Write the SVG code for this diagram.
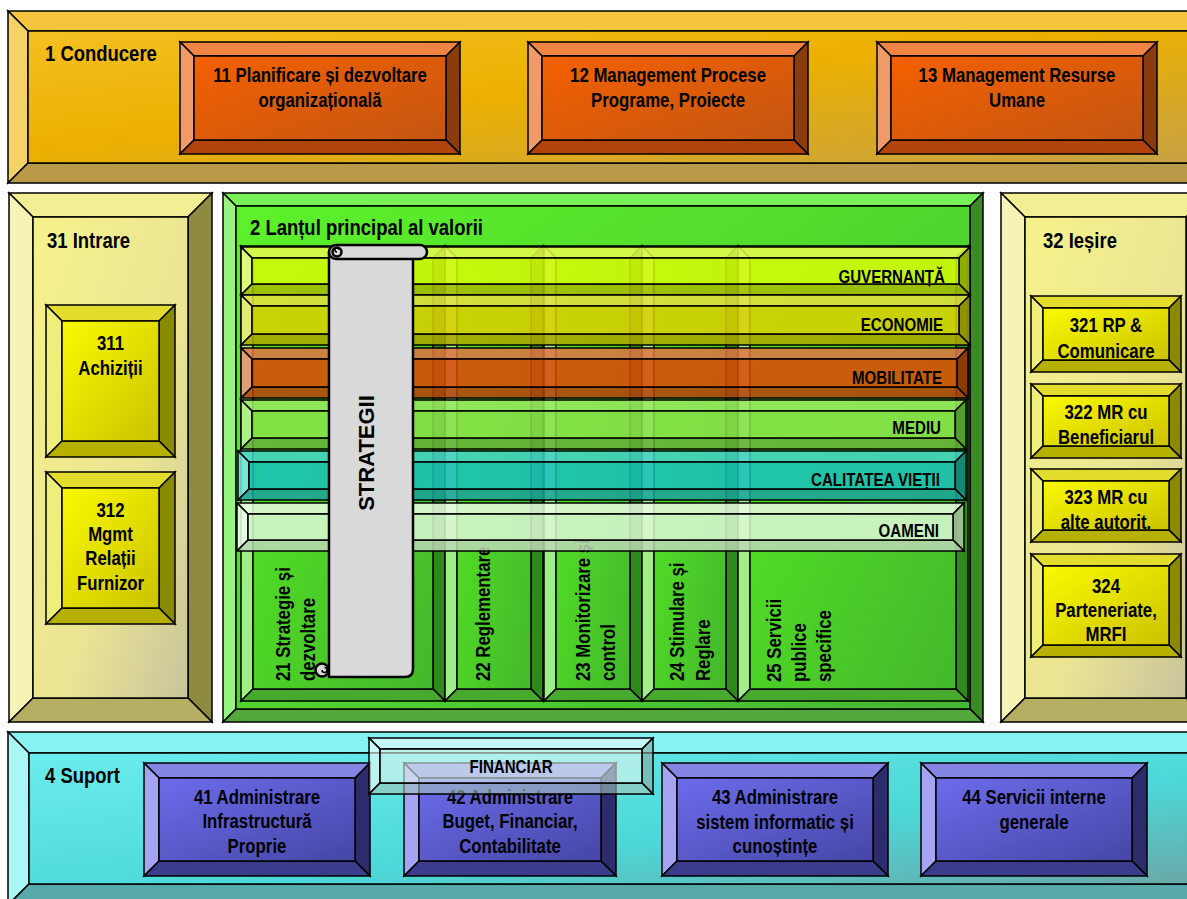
<svg xmlns="http://www.w3.org/2000/svg" width="1187" height="899" viewBox="0 0 1187 899">
<defs>
<linearGradient id="gGold" x1="0" y1="0" x2="1" y2="1"><stop offset="0" stop-color="#f4c022"/><stop offset=".45" stop-color="#ebb000"/><stop offset="1" stop-color="#c8a244"/></linearGradient>
<linearGradient id="gOr" x1="0" y1="0" x2="1" y2="1"><stop offset="0" stop-color="#f46000"/><stop offset="1" stop-color="#c45612"/></linearGradient>
<linearGradient id="gPale" x1="0" y1="0" x2="1" y2="1"><stop offset="0" stop-color="#f6f28a"/><stop offset=".6" stop-color="#eae494"/><stop offset="1" stop-color="#c8c49c"/></linearGradient>
<linearGradient id="gYel" x1="0" y1="0" x2="1" y2="1"><stop offset="0" stop-color="#fafa00"/><stop offset="1" stop-color="#ccc200"/></linearGradient>
<linearGradient id="gGrn" x1="0" y1="0" x2="1" y2="1"><stop offset="0" stop-color="#5cf22a"/><stop offset="1" stop-color="#44b832"/></linearGradient>
<linearGradient id="gCol" x1="0" y1="0" x2="1" y2="1"><stop offset="0" stop-color="#56ec22"/><stop offset="1" stop-color="#44b82c"/></linearGradient>
<linearGradient id="gCyan" x1="0" y1="0" x2="1" y2="1"><stop offset="0" stop-color="#6cecec"/><stop offset=".6" stop-color="#4cd8d8"/><stop offset="1" stop-color="#6aa8a8"/></linearGradient>
<linearGradient id="gBlue" x1="0" y1="0" x2="1" y2="1"><stop offset="0" stop-color="#6c6cec"/><stop offset="1" stop-color="#4646a6"/></linearGradient>
<style>
polygon,.in{stroke:#000;stroke-width:1.5;stroke-linejoin:miter}
.t{font-family:"Liberation Sans",Arial,sans-serif;font-weight:700;fill:#000}
.l{font-size:20px}.h{font-size:22px}.b{font-size:18px}
.gold .tp{fill:#f3c43c}.gold .lf{fill:#f5d265}.gold .rt{fill:#c09a3a}.gold .bt{fill:#b89a48}.gold .in{fill:url(#gGold)}
.or .tp{fill:#ef8444}.or .lf{fill:#f09a68}.or .rt{fill:#8a3c0c}.or .bt{fill:#b0440a}.or .in{fill:url(#gOr)}
.pale .tp{fill:#f2ee94}.pale .lf{fill:#f6f3b4}.pale .rt{fill:#8e8a40}.pale .bt{fill:#b6ae62}.pale .in{fill:url(#gPale)}
.yel .tp{fill:#e2dc2c}.yel .lf{fill:#eeee7a}.yel .rt{fill:#8a8a00}.yel .bt{fill:#b6b000}.yel .in{fill:url(#gYel)}
.grn .tp{fill:#78f058}.grn .lf{fill:#98f480}.grn .rt{fill:#3c8a24}.grn .bt{fill:#52a83a}.grn .in{fill:url(#gGrn)}
.col .tp{fill:#6ee04a}.col .lf{fill:#9ef086}.col .rt{fill:#2e8a1a}.col .bt{fill:#46aa2c}.col .in{fill:url(#gCol)}
.cyan .tp{fill:#86f2f2}.cyan .lf{fill:#a8f6f6}.cyan .rt{fill:#4aa8a8}.cyan .bt{fill:#58aaaa}.cyan .in{fill:url(#gCyan)}
.blue .tp{fill:#8484e4}.blue .lf{fill:#a4a4f2}.blue .rt{fill:#2c2c6c}.blue .bt{fill:#3c3c8c}.blue .in{fill:url(#gBlue)}
.band polygon,.band .in{fill-opacity:.86}
.guv .tp{fill:#e2fc4a}.guv .lf{fill:#e6fc74}.guv .rt{fill:#9cb400}.guv .bt{fill:#a6bc00}.guv .in{fill:#d6fa08}
.eco .tp{fill:#e6e040}.eco .lf{fill:#ecea70}.eco .rt{fill:#9c9600}.eco .bt{fill:#aca600}.eco .in{fill:#dcd000}
.mob .tp{fill:#e07444}.mob .lf{fill:#ea9070}.mob .rt{fill:#9c3000}.mob .bt{fill:#b4400c}.mob .in{fill:#dc4808}
.med .tp{fill:#9ae862}.med .lf{fill:#b2f084}.med .rt{fill:#5aa032}.med .bt{fill:#68b03a}.med .in{fill:#8ae24a}
.cal .tp{fill:#44d2ca}.cal .lf{fill:#74e2da}.cal .rt{fill:#108a84}.cal .bt{fill:#1aa29a}.cal .in{fill:#18c0bc}
.oam .tp{fill:#eafce2}.oam .lf{fill:#f2fff0}.oam .rt{fill:#aac8a2}.oam .bt{fill:#bcd8b4}.oam .in{fill:#dcf8d4}
.fin polygon,.fin .in{fill-opacity:.6}
.fin .tp{fill:#eefcf8}.fin .lf{fill:#f4fffc}.fin .rt{fill:#8aa8a0}.fin .bt{fill:#a4c4bc}.fin .in{fill:#e2f6f0}
.scroll{fill:#d9d9d9;stroke:#000;stroke-width:2.5;stroke-linejoin:round}
</style>
</defs>
<rect width="1187" height="899" fill="#fff"/>

<g id="n1" class="gold">
<polygon class="tp" points="8,11 1210,11 1190,31 28,31"/>
<polygon class="lf" points="8,11 28,31 28,163 8,183"/>
<polygon class="rt" points="1210,11 1210,183 1190,163 1190,31"/>
<polygon class="bt" points="8,183 28,163 1190,163 1210,183"/>
<rect class="in" x="28" y="31" width="1162" height="132"/>
<text class="t h" transform="translate(45 0) scale(.84 1)" x="0" y="61">1 Conducere</text>
</g>

<g id="n11" class="or">
<polygon class="tp" points="180,42 460,42 446,56 194,56"/>
<polygon class="lf" points="180,42 194,56 194,140 180,154"/>
<polygon class="rt" points="460,42 460,154 446,140 446,56"/>
<polygon class="bt" points="180,154 194,140 446,140 460,154"/>
<rect class="in" x="194" y="56" width="252" height="84"/>
<text class="t l" text-anchor="middle" transform="translate(320 0) scale(.84 1)"><tspan x="0" y="82">11 Planificare și dezvoltare</tspan><tspan x="0" y="107">organizațională</tspan></text>
</g>

<g id="n12" class="or">
<polygon class="tp" points="528,42 808,42 794,56 542,56"/>
<polygon class="lf" points="528,42 542,56 542,140 528,154"/>
<polygon class="rt" points="808,42 808,154 794,140 794,56"/>
<polygon class="bt" points="528,154 542,140 794,140 808,154"/>
<rect class="in" x="542" y="56" width="252" height="84"/>
<text class="t l" text-anchor="middle" transform="translate(668 0) scale(.84 1)"><tspan x="0" y="82">12 Management Procese</tspan><tspan x="0" y="107">Programe, Proiecte</tspan></text>
</g>

<g id="n13" class="or">
<polygon class="tp" points="877,42 1157,42 1143,56 891,56"/>
<polygon class="lf" points="877,42 891,56 891,140 877,154"/>
<polygon class="rt" points="1157,42 1157,154 1143,140 1143,56"/>
<polygon class="bt" points="877,154 891,140 1143,140 1157,154"/>
<rect class="in" x="891" y="56" width="252" height="84"/>
<text class="t l" text-anchor="middle" transform="translate(1017 0) scale(.84 1)"><tspan x="0" y="82">13 Management Resurse</tspan><tspan x="0" y="107">Umane</tspan></text>
</g>

<g id="n31" class="pale">
<polygon class="tp" points="9,193 212,193 188,217 33,217"/>
<polygon class="lf" points="9,193 33,217 33,698 9,722"/>
<polygon class="rt" points="212,193 212,722 188,698 188,217"/>
<polygon class="bt" points="9,722 33,698 188,698 212,722"/>
<rect class="in" x="33" y="217" width="155" height="481"/>
<text class="t h" transform="translate(47 0) scale(.84 1)" x="0" y="248">31 Intrare</text>
</g>

<g id="n311" class="yel">
<polygon class="tp" points="46,305 175,305 159,321 62,321"/>
<polygon class="lf" points="46,305 62,321 62,441 46,457"/>
<polygon class="rt" points="175,305 175,457 159,441 159,321"/>
<polygon class="bt" points="46,457 62,441 159,441 175,457"/>
<rect class="in" x="62" y="321" width="97" height="120"/>
<text class="t l" text-anchor="middle" transform="translate(110.5 0) scale(.84 1)"><tspan x="0" y="350">311</tspan><tspan x="0" y="375">Achiziții</tspan></text>
</g>

<g id="n312" class="yel">
<polygon class="tp" points="46,472 175,472 159,488 62,488"/>
<polygon class="lf" points="46,472 62,488 62,608 46,624"/>
<polygon class="rt" points="175,472 175,624 159,608 159,488"/>
<polygon class="bt" points="46,624 62,608 159,608 175,624"/>
<rect class="in" x="62" y="488" width="97" height="120"/>
<text class="t l" text-anchor="middle" transform="translate(110.5 0) scale(.84 1)"><tspan x="0" y="517">312</tspan><tspan x="0" y="541">Mgmt</tspan><tspan x="0" y="565">Relații</tspan><tspan x="0" y="590">Furnizor</tspan></text>
</g>

<g id="n32" class="pale">
<polygon class="tp" points="1001,193 1210,193 1186,217 1025,217"/>
<polygon class="lf" points="1001,193 1025,217 1025,698 1001,722"/>
<polygon class="rt" points="1210,193 1210,722 1186,698 1186,217"/>
<polygon class="bt" points="1001,722 1025,698 1186,698 1210,722"/>
<rect class="in" x="1025" y="217" width="161" height="481"/>
<text class="t h" transform="translate(1043 0) scale(.84 1)" x="0" y="248">32 Ieșire</text>
</g>

<g id="n321" class="yel">
<polygon class="tp" points="1031,296 1181,296 1169,308 1043,308"/>
<polygon class="lf" points="1031,296 1043,308 1043,360 1031,372"/>
<polygon class="rt" points="1181,296 1181,372 1169,360 1169,308"/>
<polygon class="bt" points="1031,372 1043,360 1169,360 1181,372"/>
<rect class="in" x="1043" y="308" width="126" height="52"/>
<text class="t l" text-anchor="middle" transform="translate(1106 0) scale(.84 1)"><tspan x="0" y="332">321 RP &amp;</tspan><tspan x="0" y="358">Comunicare</tspan></text>
</g>

<g id="n322" class="yel">
<polygon class="tp" points="1031,384 1181,384 1169,396 1043,396"/>
<polygon class="lf" points="1031,384 1043,396 1043,446 1031,458"/>
<polygon class="rt" points="1181,384 1181,458 1169,446 1169,396"/>
<polygon class="bt" points="1031,458 1043,446 1169,446 1181,458"/>
<rect class="in" x="1043" y="396" width="126" height="50"/>
<text class="t l" text-anchor="middle" transform="translate(1106 0) scale(.84 1)"><tspan x="0" y="419">322 MR cu</tspan><tspan x="0" y="444">Beneficiarul</tspan></text>
</g>

<g id="n323" class="yel">
<polygon class="tp" points="1031,469 1181,469 1169,481 1043,481"/>
<polygon class="lf" points="1031,469 1043,481 1043,530 1031,542"/>
<polygon class="rt" points="1181,469 1181,542 1169,530 1169,481"/>
<polygon class="bt" points="1031,542 1043,530 1169,530 1181,542"/>
<rect class="in" x="1043" y="481" width="126" height="49"/>
<text class="t l" text-anchor="middle" transform="translate(1106 0) scale(.84 1)"><tspan x="0" y="504">323 MR cu</tspan><tspan x="0" y="529">alte autorit.</tspan></text>
</g>

<g id="n324" class="yel">
<polygon class="tp" points="1031,554 1181,554 1169,566 1043,566"/>
<polygon class="lf" points="1031,554 1043,566 1043,645 1031,657"/>
<polygon class="rt" points="1181,554 1181,657 1169,645 1169,566"/>
<polygon class="bt" points="1031,657 1043,645 1169,645 1181,657"/>
<rect class="in" x="1043" y="566" width="126" height="79"/>
<text class="t l" text-anchor="middle" transform="translate(1106 0) scale(.84 1)"><tspan x="0" y="593">324</tspan><tspan x="0" y="617">Parteneriate,</tspan><tspan x="0" y="641">MRFI</tspan></text>
</g>

<g id="n2" class="grn">
<polygon class="tp" points="223,193 983,193 970,206 236,206"/>
<polygon class="lf" points="223,193 236,206 236,709 223,722"/>
<polygon class="rt" points="983,193 983,722 970,709 970,206"/>
<polygon class="bt" points="223,722 236,709 970,709 983,722"/>
<rect class="in" x="236" y="206" width="734" height="503"/>
<text class="t h" transform="translate(250 0) scale(.84 1)" x="0" y="235">2 Lanțul principal al valorii</text>
</g>

<g id="n21" class="col">
<polygon class="tp" points="241,246 445,246 433,258 253,258"/>
<polygon class="lf" points="241,246 253,258 253,689 241,701"/>
<polygon class="rt" points="445,246 445,701 433,689 433,258"/>
<polygon class="bt" points="241,701 253,689 433,689 445,701"/>
<rect class="in" x="253" y="258" width="180" height="431"/>
<text class="t l" transform="translate(290 681) rotate(-90) scale(.84 1)"><tspan x="0" y="0">21 Strategie și</tspan><tspan x="0" y="25">dezvoltare</tspan></text>
</g>

<g id="n22" class="col">
<polygon class="tp" points="445,246 543,246 531,258 457,258"/>
<polygon class="lf" points="445,246 457,258 457,689 445,701"/>
<polygon class="rt" points="543,246 543,701 531,689 531,258"/>
<polygon class="bt" points="445,701 457,689 531,689 543,701"/>
<rect class="in" x="457" y="258" width="74" height="431"/>
<text class="t l" transform="translate(490 681) rotate(-90) scale(.84 1)" x="0" y="0">22 Reglementare</text>
</g>

<g id="n23" class="col">
<polygon class="tp" points="544,246 642,246 630,258 556,258"/>
<polygon class="lf" points="544,246 556,258 556,689 544,701"/>
<polygon class="rt" points="642,246 642,701 630,689 630,258"/>
<polygon class="bt" points="544,701 556,689 630,689 642,701"/>
<rect class="in" x="556" y="258" width="74" height="431"/>
<text class="t l" transform="translate(590 681) rotate(-90) scale(.84 1)"><tspan x="0" y="0">23 Monitorizare și</tspan><tspan x="0" y="25">control</tspan></text>
</g>

<g id="n24" class="col">
<polygon class="tp" points="642,246 738,246 726,258 654,258"/>
<polygon class="lf" points="642,246 654,258 654,689 642,701"/>
<polygon class="rt" points="738,246 738,701 726,689 726,258"/>
<polygon class="bt" points="642,701 654,689 726,689 738,701"/>
<rect class="in" x="654" y="258" width="72" height="431"/>
<text class="t l" transform="translate(684 681) rotate(-90) scale(.84 1)"><tspan x="0" y="0">24 Stimulare și</tspan><tspan x="0" y="26">Reglare</tspan></text>
</g>

<g id="n25" class="col">
<polygon class="tp" points="738,246 968,246 956,258 750,258"/>
<polygon class="lf" points="738,246 750,258 750,689 738,701"/>
<polygon class="rt" points="968,246 968,701 956,689 956,258"/>
<polygon class="bt" points="738,701 750,689 956,689 968,701"/>
<rect class="in" x="750" y="258" width="206" height="431"/>
<text class="t l" transform="translate(781 682) rotate(-90) scale(.84 1)"><tspan x="0" y="0">25 Servicii</tspan><tspan x="0" y="25">publice</tspan><tspan x="0" y="50">specifice</tspan></text>
</g>

<g id="b_guv" class="band guv">
<polygon class="tp" points="241,247 970,247 959,258 252,258"/>
<polygon class="lf" points="241,247 252,258 252,284 241,295"/>
<polygon class="rt" points="970,247 970,295 959,284 959,258"/>
<polygon class="bt" points="241,295 252,284 959,284 970,295"/>
<rect class="in" x="252" y="258" width="707" height="26"/>
<text class="t b" text-anchor="end" transform="translate(945 0) scale(.84 1)" x="0" y="283">GUVERNANȚĂ</text>
</g>

<g id="b_eco" class="band eco">
<polygon class="tp" points="241,295 970,295 959,306 252,306"/>
<polygon class="lf" points="241,295 252,306 252,334 241,345"/>
<polygon class="rt" points="970,295 970,345 959,334 959,306"/>
<polygon class="bt" points="241,345 252,334 959,334 970,345"/>
<rect class="in" x="252" y="306" width="707" height="28"/>
<text class="t b" text-anchor="end" transform="translate(943 0) scale(.84 1)" x="0" y="331">ECONOMIE</text>
</g>

<g id="b_mob" class="band mob">
<polygon class="tp" points="241,348 968,348 957,359 252,359"/>
<polygon class="lf" points="241,348 252,359 252,387 241,398"/>
<polygon class="rt" points="968,348 968,398 957,387 957,359"/>
<polygon class="bt" points="241,398 252,387 957,387 968,398"/>
<rect class="in" x="252" y="359" width="705" height="28"/>
<text class="t b" text-anchor="end" transform="translate(942 0) scale(.84 1)" x="0" y="384">MOBILITATE</text>
</g>

<g id="b_med" class="band med">
<polygon class="tp" points="241,400 966,400 955,411 252,411"/>
<polygon class="lf" points="241,400 252,411 252,438 241,449"/>
<polygon class="rt" points="966,400 966,449 955,438 955,411"/>
<polygon class="bt" points="241,449 252,438 955,438 966,449"/>
<rect class="in" x="252" y="411" width="703" height="27"/>
<text class="t b" text-anchor="end" transform="translate(941 0) scale(.84 1)" x="0" y="434">MEDIU</text>
</g>

<g id="b_cal" class="band cal">
<polygon class="tp" points="238,451 966,451 955,462 249,462"/>
<polygon class="lf" points="238,451 249,462 249,489 238,500"/>
<polygon class="rt" points="966,451 966,500 955,489 955,462"/>
<polygon class="bt" points="238,500 249,489 955,489 966,500"/>
<rect class="in" x="249" y="462" width="706" height="27"/>
<text class="t b" text-anchor="end" transform="translate(940 0) scale(.84 1)" x="0" y="486">CALITATEA VIEȚII</text>
</g>

<g id="b_oam" class="band oam">
<polygon class="tp" points="237,503 964,503 953,514 248,514"/>
<polygon class="lf" points="237,503 248,514 248,540 237,551"/>
<polygon class="rt" points="964,503 964,551 953,540 953,514"/>
<polygon class="bt" points="237,551 248,540 953,540 964,551"/>
<rect class="in" x="248" y="514" width="705" height="26"/>
<text class="t b" text-anchor="end" transform="translate(939 0) scale(.84 1)" x="0" y="537">OAMENI</text>
</g>

<g id="strategii">
<path class="scroll" d="M329,252 V677 H405 Q413,677 413,669 V252 Z"/>
<rect class="scroll" x="329" y="245" width="98" height="14" rx="7"/>
<circle class="scroll" cx="337" cy="252" r="4.5"/>
<path d="M337,252 a2,2 0 1 1 2,-2" fill="none" stroke="#000" stroke-width="1.5"/>
<circle class="scroll" cx="322" cy="670" r="6.5"/>
<path d="M322,670 a2.5,2.5 0 1 0 2.5,-2.5" fill="none" stroke="#000" stroke-width="1.5"/>
<text class="t" font-size="22" text-anchor="middle" transform="translate(374 453) rotate(-90)" x="0" y="0">STRATEGII</text>
</g>

<g id="n4" class="cyan">
<polygon class="tp" points="8,732 1210,732 1189,753 29,753"/>
<polygon class="lf" points="8,732 29,753 29,884 8,905"/>
<polygon class="rt" points="1210,732 1210,905 1189,884 1189,753"/>
<polygon class="bt" points="8,905 29,884 1189,884 1210,905"/>
<rect class="in" x="29" y="753" width="1160" height="131"/>
<text class="t h" transform="translate(45 0) scale(.84 1)" x="0" y="783">4 Suport</text>
</g>

<g id="n41" class="blue">
<polygon class="tp" points="144,763 370,763 355,778 159,778"/>
<polygon class="lf" points="144,763 159,778 159,861 144,876"/>
<polygon class="rt" points="370,763 370,876 355,861 355,778"/>
<polygon class="bt" points="144,876 159,861 355,861 370,876"/>
<rect class="in" x="159" y="778" width="196" height="83"/>
<text class="t l" text-anchor="middle" transform="translate(257 0) scale(.84 1)"><tspan x="0" y="804">41 Administrare</tspan><tspan x="0" y="828">Infrastructură</tspan><tspan x="0" y="853">Proprie</tspan></text>
</g>

<g id="n42" class="blue">
<polygon class="tp" points="404,763 616,763 601,778 419,778"/>
<polygon class="lf" points="404,763 419,778 419,861 404,876"/>
<polygon class="rt" points="616,763 616,876 601,861 601,778"/>
<polygon class="bt" points="404,876 419,861 601,861 616,876"/>
<rect class="in" x="419" y="778" width="182" height="83"/>
<text class="t l" text-anchor="middle" transform="translate(510 0) scale(.84 1)"><tspan x="0" y="804">42 Administrare</tspan><tspan x="0" y="828">Buget, Financiar,</tspan><tspan x="0" y="853">Contabilitate</tspan></text>
</g>

<g id="n43" class="blue">
<polygon class="tp" points="662,763 888,763 873,778 677,778"/>
<polygon class="lf" points="662,763 677,778 677,861 662,876"/>
<polygon class="rt" points="888,763 888,876 873,861 873,778"/>
<polygon class="bt" points="662,876 677,861 873,861 888,876"/>
<rect class="in" x="677" y="778" width="196" height="83"/>
<text class="t l" text-anchor="middle" transform="translate(775 0) scale(.84 1)"><tspan x="0" y="804">43 Administrare</tspan><tspan x="0" y="829">sistem informatic și</tspan><tspan x="0" y="853">cunoștințe</tspan></text>
</g>

<g id="n44" class="blue">
<polygon class="tp" points="921,763 1147,763 1132,778 936,778"/>
<polygon class="lf" points="921,763 936,778 936,861 921,876"/>
<polygon class="rt" points="1147,763 1147,876 1132,861 1132,778"/>
<polygon class="bt" points="921,876 936,861 1132,861 1147,876"/>
<rect class="in" x="936" y="778" width="196" height="83"/>
<text class="t l" text-anchor="middle" transform="translate(1034 0) scale(.84 1)"><tspan x="0" y="804">44 Servicii interne</tspan><tspan x="0" y="829">generale</tspan></text>
</g>

<g id="financiar" class="fin">
<polygon class="tp" points="369,738 653,738 642,749 380,749"/>
<polygon class="lf" points="369,738 380,749 380,783 369,794"/>
<polygon class="rt" points="653,738 653,794 642,783 642,749"/>
<polygon class="bt" points="369,794 380,783 642,783 653,794"/>
<rect class="in" x="380" y="749" width="262" height="34"/>
<text class="t b" text-anchor="middle" transform="translate(511 0) scale(.84 1)" x="0" y="773">FINANCIAR</text>
</g>

<g id="connectors"/>
</svg>
